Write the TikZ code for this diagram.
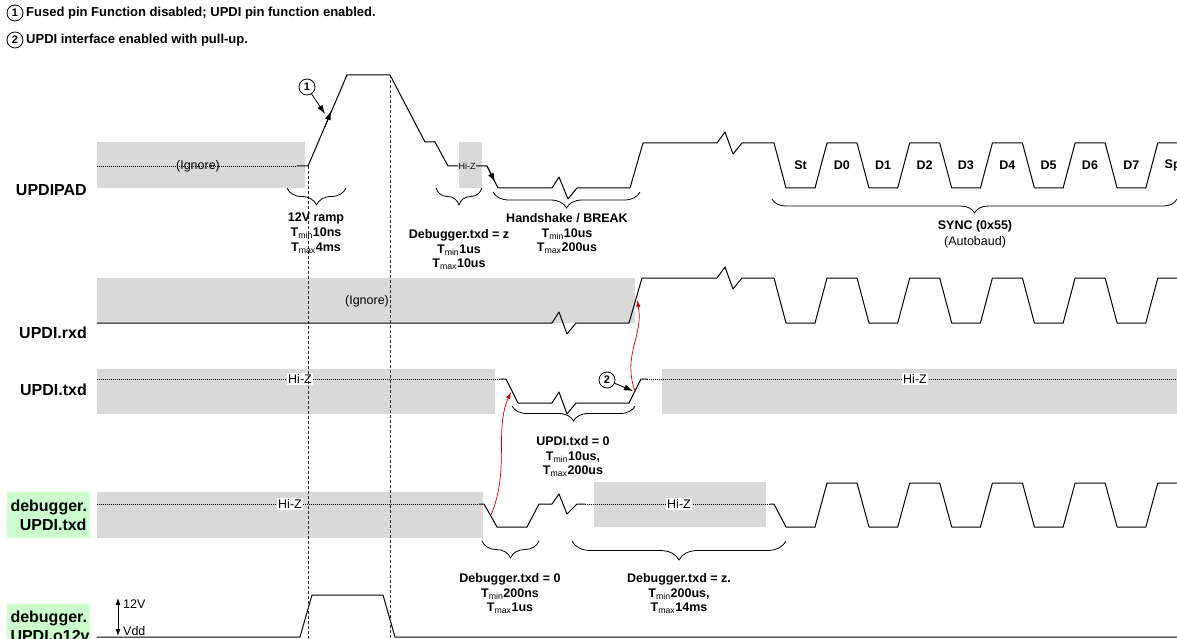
\documentclass[tikz,border=0pt]{standalone}
\usepackage{fontspec}
\setmainfont{Liberation Sans}
\usetikzlibrary{arrows.meta,decorations.pathreplacing}
\definecolor{cinza}{HTML}{D9D9D9}
\definecolor{verde}{HTML}{CCFFCC}
\newcommand{\tmin}{T\textsubscript{\mdseries min}}
\newcommand{\tmax}{T\textsubscript{\mdseries max}}
\begin{document}
\begin{tikzpicture}[x=1pt, y=-1pt,
    sinal/.style={line width=1pt, line join=round, line cap=round},
    hiz/.style={line width=0.9pt, dash pattern=on 1pt off 1pt},
    guia/.style={line width=0.8pt, black!85, dash pattern=on 3pt off 2pt},
    chave/.style={decorate, decoration={brace, mirror, amplitude=17pt}, line width=0.8pt},
    rotulo/.style={anchor=east, inner sep=0pt, font=\fontsize{16}{19}\selectfont\bfseries},
    caixa/.style={fill=verde, text width=76pt, align=right, minimum height=46pt, inner xsep=3.5pt, font=\fontsize{16}{19}\selectfont\bfseries},
    nota/.style={anchor=north, align=center, inner sep=0pt, font=\fontsize{12.5}{14.8}\selectfont\bfseries},
    texto/.style={inner sep=1pt, font=\fontsize{12.5}{15}\selectfont},
    legenda/.style={anchor=west, inner sep=1pt, font=\fontsize{13}{15}\selectfont\bfseries},
    bit/.style={font=\fontsize{12.5}{15}\selectfont\bfseries},
    marca/.style={circle, draw, line width=0.8pt, minimum size=16pt, inner sep=0pt, font=\fontsize{11}{12}\selectfont\bfseries},
    seta/.style={-{Latex[length=9pt,width=6pt]}, line width=0.8pt},
    vermelha/.style={-{Latex[length=7pt,width=4.5pt]}, line width=0.7pt, red!80!black}]
  \useasboundingbox (0,0) rectangle (1177,639);
  \clip (0,0) rectangle (1177,639);

  % Legenda
  \node[marca] (m1leg) at (15,13) {1};
  \node[legenda] (t1leg) at (25,13) {Fused pin Function disabled; UPDI pin function enabled.};
  \node[marca] (m2leg) at (15,40) {2};
  \node[legenda] (t2leg) at (25,40) {UPDI interface enabled with pull-up.};

  % Faixas cinza
  \fill[cinza] (97,142) rectangle (305,188);
  \fill[cinza] (459,142) rectangle (482,188);
  \fill[cinza] (97,278) rectangle (635,323);
  \fill[cinza] (97,369) rectangle (495,414);
  \fill[cinza] (662,369) rectangle (1177,414);
  \fill[cinza] (97,492) rectangle (483,538);
  \fill[cinza] (594,482) rectangle (766,527);

  % Sinais
  \draw[hiz] (97,166) -- (297,166);
  \draw[sinal] (297,166) -- (308,166) -- (347,75) -- (390,75) -- (425,142) -- (435,142) -- (448,166) -- (487,166) -- (498,188) -- (552,188) -- (559,177) -- (568,199) -- (577,188) -- (630,188) -- (643,143) -- (717,143) -- (725,132) -- (733,154) -- (742,143) -- (774,143) -- (786,188) -- (815,188);
  \draw[sinal] (97,323) -- (552,323) -- (559,312) -- (567,334) -- (576,323) -- (629,323) -- (642,278) -- (717,278) -- (725,267) -- (733,289) -- (742,278) -- (774,278) -- (786,323) -- (815,323);
  \draw[hiz] (97,379) -- (500,379);
  \draw[sinal] (500,379) -- (506,379) -- (518,403) -- (552,403) -- (559,392) -- (567,414) -- (576,403) -- (629,403) -- (641,379) -- (647,379);
  \draw[hiz] (647,379) -- (1177,379);
  \draw[hiz] (97,504) -- (479,504);
  \draw[sinal] (479,504) -- (484,504) -- (497,527) -- (527,527) -- (539,504) -- (552,504) -- (559,494) -- (567,514) -- (577,504) -- (585,504);
  \draw[hiz] (585,504) -- (770,504);
  \draw[sinal] (770,504) -- (774,504) -- (786,527) -- (815,527);
  \foreach \a/\b in {143/188, 278/323, 483/527}
    \foreach \k in {0,...,4}
      \draw[sinal] ({815+82.7*\k},\b) -- ({827+82.7*\k},\a) -- ({857+82.7*\k},\a) -- ({869+82.7*\k},\b) -- ({897.7+82.7*\k},\b);
  \draw[sinal] (97,637) -- (300,637) -- (312,595) -- (383,595) -- (395,637) -- (1177,637);

  % Rotulos das linhas
  \node[rotulo] (lpad) at (87,190) {UPDIPAD};
  \node[rotulo] (lrxd) at (87,333) {UPDI.rxd};
  \node[rotulo] (ltxd) at (87,390) {UPDI.txd};
  \node[caixa] (ldbg) at (48.5,515) {debugger.\\UPDI.txd};
  \node[caixa] (lo12) at (48.5,626.5) {debugger.\\UPDI.o12v};

  % Textos sobre os sinais
  \node[texto] (ign1) at (198,166) {(Ignore)};
  \node[texto] (ign2) at (367,301) {(Ignore)};
  \node[font=\fontsize{9}{10}\selectfont, fill=cinza, inner sep=0.5pt] (hz0) at (467,166) {Hi-Z};
  \node[texto, fill=white] (hz1) at (300,379) {Hi-Z};
  \node[texto, fill=white] (hz2) at (915,379) {Hi-Z};
  \node[texto, fill=white] (hz3) at (290,504) {Hi-Z};
  \node[texto, fill=white] (hz4) at (679,504) {Hi-Z};
  \foreach \n [count=\i from 0] in {St,D0,D1,D2,D3,D4,D5,D6,D7,Sp}
    \node[bit] (b\i) at ({800.5+41.35*\i},165) {\n};

  % Guias tracejadas
  \coordinate (g1) at (308,166);
  \coordinate (g1b) at (308,639);
  \coordinate (g2) at (390,75);
  \coordinate (g2b) at (390,639);
  \draw[guia] (g1) -- (g1b);
  \draw[guia] (g2) -- (g2b);

  % Chaves
  \draw[chave] (287,188) -- (346,188);
  \draw[chave] (436,188) -- (482,188);
  \draw[chave, decoration={amplitude=16pt}] (493,192) -- (640,192);
  \draw[chave, decoration={amplitude=14pt}] (772,199) -- (1177,199);
  \draw[chave, decoration={amplitude=15pt}] (512,406) -- (635,406);
  \draw[chave] (482,541) -- (539,541);
  \draw[chave, decoration={amplitude=19pt}] (572,541) -- (786,541);
  \node[nota] (tramp) at (316,213) {12V ramp\\\tmin10ns\\\tmax4ms};
  \node[nota] (tdbgz) at (459,229) {Debugger.txd = z\\\tmin1us\\\tmax10us};
  \node[nota] (thand) at (567,213) {Handshake / BREAK\\\tmin10us\\\tmax200us};
  \node[nota, font=\fontsize{12.5}{16}\selectfont\bfseries] (tsync) at (975,220) {SYNC (0x55)\\{\mdseries (Autobaud)}};
  \node[nota] (ttxd) at (573,436) {UPDI.txd = 0\\\tmin10us,\\\tmax200us};
  \node[nota] (tdbg0) at (510,573) {Debugger.txd = 0\\\tmin200ns\\\tmax1us};
  \node[nota] (tdbgp) at (679,573) {Debugger.txd = z.\\\tmin200us,\\\tmax14ms};

  % Marcas e setas
  \node[marca] (m1) at (307,87) {1};
  \coordinate (p1) at (325,114);
  \draw[seta] (m1) -- (p1);
  \coordinate (r0) at (325,127);
  \coordinate (r1) at (331,111);
  \draw[seta] (r0) -- (r1);
  \coordinate (h0) at (487,166);
  \coordinate (h1) at (495,182);
  \draw[seta] (h0) -- (h1);
  \node[marca] (m2) at (607,380) {2};
  \coordinate (p2) at (633,391);
  \draw[seta] (m2) -- (p2);
  \coordinate (v0) at (491,515);
  \coordinate (v1) at (511,392);
  \draw[vermelha] (v0) .. controls (510,470) and (494,430) .. (v1);
  \coordinate (w0) at (635,391);
  \coordinate (w1) at (637,300);
  \draw[vermelha] (w0) .. controls (622,355) and (644,335) .. (w1);

  % Tensao
  \coordinate (a0) at (118,598);
  \coordinate (a1) at (118,636);
  \draw[{Latex[length=7pt,width=5pt]}-{Latex[length=7pt,width=5pt]}, line width=0.8pt] (a0) -- (a1);
  \node[texto, anchor=west] (l12) at (122,604) {12V};
  \node[texto, anchor=west] (lvdd) at (122,631) {Vdd};
\end{tikzpicture}
\end{document}
